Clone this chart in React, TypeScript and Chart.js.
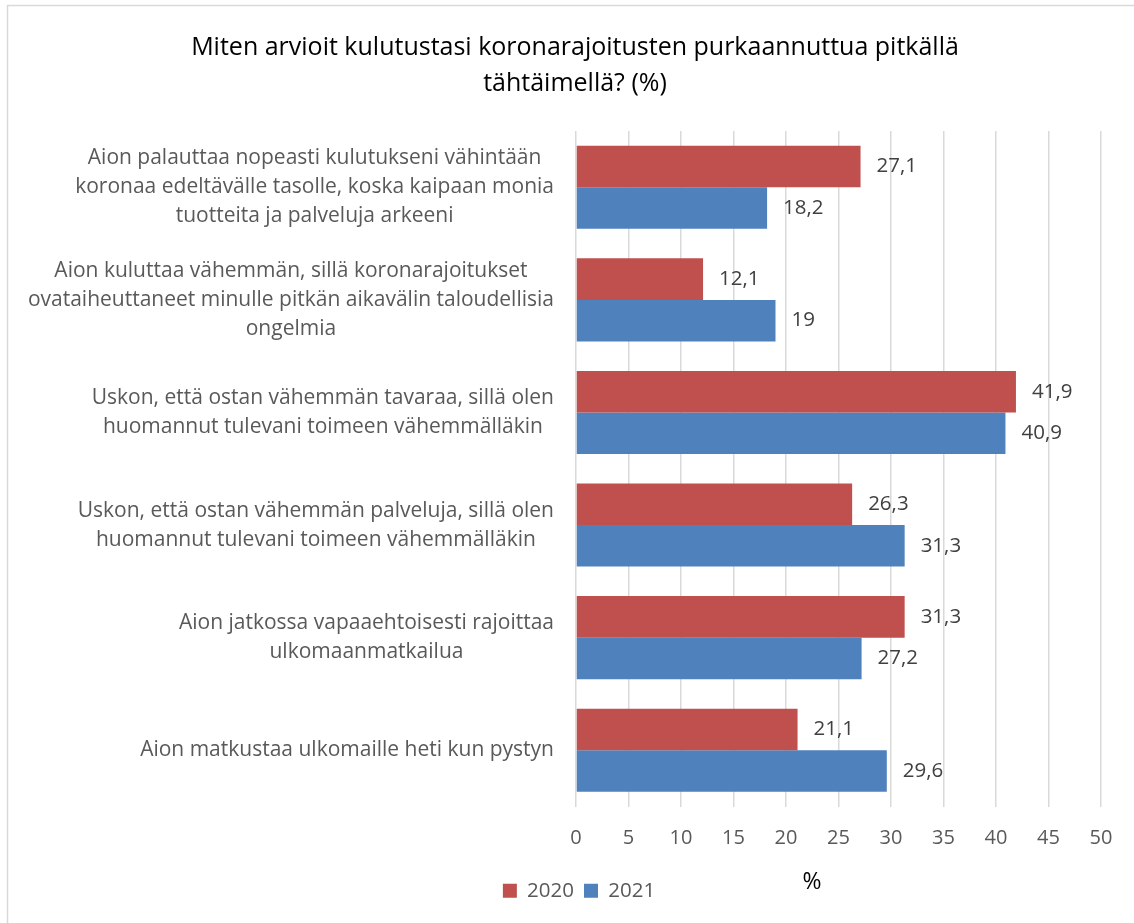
import { useEffect, useRef } from "react";
import { Chart, registerables } from "chart.js";

Chart.register(...registerables);

const titleLines = [
  "Miten arvioit kulutustasi koronarajoitusten purkaannuttua pitkällä",
  "tähtäimellä? (%)",
];
const categories: string[][] = [
  [
    "Aion palauttaa nopeasti kulutukseni vähintään",
    "koronaa edeltävälle tasolle, koska kaipaan monia",
    "tuotteita ja palveluja arkeeni",
  ],
  [
    "Aion kuluttaa vähemmän, sillä koronarajoitukset",
    "ovataiheuttaneet minulle pitkän aikavälin taloudellisia",
    "ongelmia",
  ],
  ["Uskon, että ostan vähemmän tavaraa, sillä olen", "huomannut tulevani toimeen vähemmälläkin"],
  ["Uskon, että ostan vähemmän palveluja, sillä olen", "huomannut tulevani toimeen vähemmälläkin"],
  ["Aion jatkossa vapaaehtoisesti rajoittaa", "ulkomaanmatkailua"],
  ["Aion matkustaa ulkomaille heti kun pystyn"],
];
const seriesNames = ["2020", "2021"];
const values2020 = [27.1, 12.1, 41.9, 26.3, 31.3, 21.1];
const values2021 = [18.2, 19, 40.9, 31.3, 27.2, 29.6];
const xMin = 0;
const xMax = 50;
const xStep = 5;
const xAxisTitle = "%";

const FONT = "'Open Sans', 'Noto Sans', sans-serif";
const RED = "#C0504D";
const BLUE = "#4F81BD";

const fmt = (v: number) => String(v).replace(".", ",");

const decorPlugin = {
  id: "decor",
  beforeDraw(chart: any) {
    const ctx = chart.ctx;
    ctx.save();
    ctx.fillStyle = "#ffffff";
    ctx.fillRect(0, 0, chart.width, chart.height);
    ctx.strokeStyle = "#d9d9d9";
    ctx.lineWidth = 1.5;
    ctx.strokeRect(7.5, 5.5, chart.width + 20, chart.height + 20);
    ctx.restore();
  },
  afterDraw(chart: any) {
    const ctx = chart.ctx;
    const yScale = chart.scales.y;
    const area = chart.chartArea;
    ctx.save();
    // title
    ctx.fillStyle = "#000000";
    ctx.font = `25px ${FONT}`;
    ctx.textAlign = "center";
    ctx.textBaseline = "middle";
    titleLines.forEach((t, i) => ctx.fillText(t, 575, 48 + i * 36));
    // category labels
    ctx.fillStyle = "#595959";
    ctx.font = `21px ${FONT}`;
    const lh = 29;
    categories.forEach((lines, i) => {
      const cy = yScale.getPixelForValue(i);
      const maxW = Math.max(...lines.map((l) => ctx.measureText(l).width));
      const cx = area.left - 22 - maxW / 2;
      lines.forEach((l, j) => {
        ctx.fillText(l, cx, cy + (j - (lines.length - 1) / 2) * lh);
      });
    });
    // x axis title
    ctx.fillStyle = "#000000";
    ctx.font = `23px ${FONT}`;
    ctx.fillText(xAxisTitle, 812, 882);
    ctx.restore();
  },
  afterDatasetsDraw(chart: any) {
    const ctx = chart.ctx;
    ctx.save();
    ctx.fillStyle = "#404040";
    ctx.font = `20.5px ${FONT}`;
    ctx.textAlign = "left";
    ctx.textBaseline = "middle";
    chart.data.datasets.forEach((ds: any, di: number) => {
      const meta = chart.getDatasetMeta(di);
      meta.data.forEach((bar: any, i: number) => {
        ctx.fillText(fmt(ds.data[i]), bar.x + 16, bar.y);
      });
    });
    ctx.restore();
  },
};

export default function App() {
  const ref = useRef<HTMLCanvasElement | null>(null);
  useEffect(() => {
    document.body.style.margin = "0";
    if (!ref.current) return;
    const chart = new Chart(ref.current, {
      type: "bar",
      data: {
        labels: categories,
        datasets: [
          { label: seriesNames[0], data: values2020, backgroundColor: RED },
          { label: seriesNames[1], data: values2021, backgroundColor: BLUE },
        ],
      },
      options: {
        indexAxis: "y",
        responsive: false,
        animation: false,
        devicePixelRatio: 1,
        datasets: { bar: { categoryPercentage: 0.738, barPercentage: 1 } },
        layout: { padding: { top: 131, left: 57, right: 33, bottom: 12 } },
        scales: {
          x: {
            min: xMin,
            max: xMax,
            grid: { color: "#d9d9d9", lineWidth: 1.5, drawTicks: false },
            border: { display: false },
            ticks: {
              stepSize: xStep,
              padding: 20,
              color: "#595959",
              font: { family: FONT, size: 20 },
            },
            afterFit: (s: any) => {
              s.height = 64;
            },
          },
          y: {
            grid: { display: false },
            border: { display: false },
            ticks: { display: false },
            afterFit: (s: any) => {
              s.width = 519;
            },
          },
        },
        plugins: {
          legend: {
            position: "bottom",
            labels: {
              boxWidth: 14,
              boxHeight: 14,
              color: "#595959",
              font: { family: FONT, size: 20.5 },
              padding: 10,
            },
          },
          title: { display: false },
          tooltip: { enabled: false },
        },
      },
      plugins: [decorPlugin],
    } as any);
    return () => chart.destroy();
  }, []);
  return <canvas ref={ref} width={1134} height={923} style={{ display: "block" }} />;
}
